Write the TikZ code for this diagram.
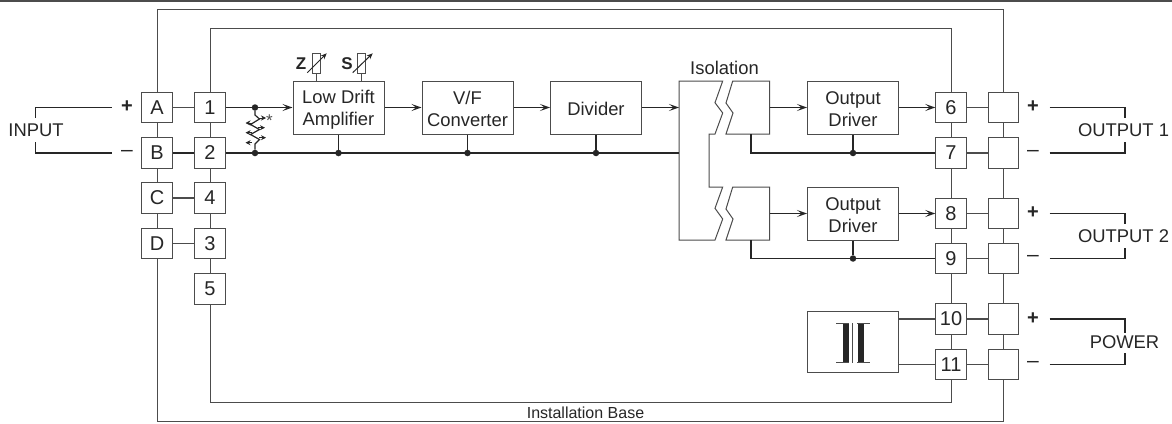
\documentclass[tikz,border=0pt]{standalone}
\usepackage{fontspec}
\setmainfont{Liberation Sans}
\usetikzlibrary{arrows.meta}
\definecolor{ink}{gray}{0.3}
\definecolor{txt}{gray}{0.15}
\newcommand{\tstrut}{\rule{0pt}{17pt}}
\tikzset{
  thin line/.style={draw=ink,line width=1pt},
  thick line/.style={draw=txt,line width=1.7pt},
  arrowed/.style={-{Stealth[length=10pt,width=7pt,inset=4.5pt]}},
  wire/.style={draw=txt,line width=1.4pt},
  lightwire/.style={draw=ink,line width=1.25pt},
  sq/.style={thin line,fill=white,inner sep=0pt,minimum size=30.5pt,font=\fontsize{20}{22}\selectfont,text=txt},
  blockbox/.style={thin line,fill=white,inner sep=0pt,minimum width=91pt,minimum height=53pt,align=center,font=\fontsize{18.4}{22}\selectfont,text=txt},
  frame/.style={thin line,inner sep=0pt},
  lab/.style={inner sep=0pt,font=\fontsize{18.4}{22}\selectfont,text=txt},
  sign/.style={inner sep=0pt,font=\fontsize{20}{22}\selectfont\bfseries,text=txt},
  minus/.style={inner sep=0pt,font=\fontsize{21}{22}\selectfont,text=txt},
  dot/.style={circle,fill=txt,inner sep=0pt,minimum size=6.5pt},
  rbox/.style={thin line,fill=white,inner sep=0pt,minimum width=7.5pt,minimum height=19.5pt},
  zz/.style={draw=txt,line width=1.2pt},
  tip/.style={-{Stealth[length=5pt,width=5pt]},draw=txt,line width=0.8pt},
}
\begin{document}
\begin{tikzpicture}[x=1pt,y=-1pt]
\useasboundingbox (0,0) rectangle (1172,423);
\fill[white] (0,0) rectangle (1172,423);
\draw[ink,line width=2pt] (0,0.6) -- (1172,0.6);
% frames
\node[frame,minimum width=846pt,minimum height=411.5pt] (outer) at (580,215.3) {};
\node[frame,minimum width=741pt,minimum height=374pt] (inner) at (580.5,215) {};
\node[inner sep=0pt,font=\fontsize{16}{18}\selectfont,text=txt] (base) at (585.5,412.7) {Installation Base};
% left columns
\foreach \n/\t/\y in {A/A/107.5,B/B/153,C/C/198,D/D/243.5}
  \node[sq] (\n) at (157,\y) {\t};
\foreach \n/\t/\y in {p1/1/107.5,p2/2/153,p4/4/198,p3/3/243.5,p5/5/289}
  \node[sq] (\n) at (210,\y) {\t};
% right columns
\foreach \n/\y in {6/107.5,7/153,8/213.5,9/258.5,10/319,11/364.5}{
  \node[sq] (t\n) at (951,\y) {\n};
  \node[sq] (u\n) at (1003.5,\y) {};
  \draw[lightwire] (t\n) -- (u\n);
}
% blocks
\node[blockbox] (amp) at (338.5,107.5) {\tstrut Low Drift\\Amplifier};
\node[blockbox] (vf) at (467.5,107.5) {\tstrut V/F\\Converter};
\node[blockbox] (div) at (596,107.5) {\tstrut Divider};
\node[blockbox] (d1) at (853,107.5) {\tstrut Output\\Driver};
\node[blockbox] (d2) at (853,213.5) {\tstrut Output\\Driver};
\node[blockbox,minimum height=60.5pt] (tr) at (852.7,342) {};
% isolation
\draw[thin line,line join=miter] (679,81) -- (722.7,81) -- (715,102.7) -- (722.7,113) -- (715,134) -- (709,134) -- (709,187) -- (722.7,187) -- (715,208.3) -- (722.7,219) -- (715,240) -- (679,240) -- cycle;
\draw[thin line] (732.7,81) -- (769.7,81) -- (769.7,134) -- (726,134) -- (733,113) -- (726,103) -- cycle;
\draw[thin line] (732.7,187) -- (769.7,187) -- (769.7,240) -- (726,240) -- (733,219) -- (726,209) -- cycle;
\node[lab] (isol) at (724.5,68) {Isolation};
\coordinate (isoin) at (679,107.5);
\coordinate (isob) at (679,153);
\coordinate (iso1) at (769.7,107.5);
\coordinate (iso2) at (769.7,213.5);
\coordinate (iso1g) at (750.7,134);
\coordinate (iso2g) at (750.7,240);
% bus dots
\node[dot] (j1) at (255,107.5) {};
\node[dot] (j2) at (255,153) {};
\node[dot] (j3) at (338.5,153) {};
\node[dot] (j4) at (467.5,153) {};
\node[dot] (j5) at (596,153) {};
\node[dot] (j6) at (853,153) {};
\node[dot] (j7) at (853,258.5) {};
% box-to-box wires
\draw[lightwire] (A) -- (p1);
\draw[thick line] (B) -- (p2);
\draw[lightwire] (C) -- (p4);
\draw[lightwire] (D) -- (p3);
\draw[wire,arrowed] (p1) -- (amp);
\draw[thick line] (p2) -- (isob);
\draw[wire,arrowed] (amp) -- (vf);
\draw[wire,arrowed] (vf) -- (div);
\draw[wire,arrowed] (div) -- (isoin);
\draw[wire,arrowed] (iso1) -- (d1);
\draw[wire,arrowed] (iso2) -- (d2);
\draw[wire,arrowed] (d1) -- (t6);
\draw[wire,arrowed] (d2) -- (t8);
\draw[thick line] (amp.south) -- (j3);
\draw[thick line] (vf.south) -- (j4);
\draw[thick line] (div.south) -- (j5);
\draw[thick line] (d1.south) -- (j6);
\draw[thick line] (d2.south) -- (j7);
\draw[thick line] (iso1g) |- (t7);
\draw[thick line] (iso2g) |- (t9);
\draw[lightwire] (tr.east |- t10) -- (t10);
\draw[lightwire] (tr.east |- t11) -- (t11);
% transformer symbol
\fill[txt] (842.7,323.3) rectangle (848.5,362.7);
\fill[txt] (857.7,323.3) rectangle (863.5,362.7);
\draw[ink,line width=1pt] (836,323.3) -- (849,323.3) (836,362.7) -- (849,362.7) (857,323.3) -- (869.5,323.3) (857,362.7) -- (869.5,362.7) (852.8,323.3) -- (852.8,362.7);
% trim resistors
\node[rbox] (rz) at (316.3,63.7) {};
\node[rbox] (rs) at (361.6,63.7) {};
\draw[thin line] (rz) -- (rz |- amp.north);
\draw[thin line] (rs) -- (rs |- amp.north);
\draw[draw=txt,line width=1pt,-{Stealth[length=6pt,width=5pt]}] (307.3,72.7) -- (326.7,53.3);
\draw[draw=txt,line width=1pt,-{Stealth[length=6pt,width=5pt]}] (352.7,72.7) -- (372.7,53.3);
\node[sign,font=\fontsize{17}{20}\selectfont\bfseries] (zl) at (301,64) {Z};
\node[sign,font=\fontsize{17}{20}\selectfont\bfseries] (sl) at (347,64) {S};
% variable resistor
\draw[zz] (j1) -- (255,115) -- (259.5,119) -- (250.5,124.5) -- (259.5,129.5) -- (250.5,134.5) -- (259.5,139.5) -- (255,144) -- (j2);
\draw[tip] (259,118) -- (266,118);
\draw[tip] (258,127.7) -- (265,127.7);
\draw[tip] (259,137.7) -- (266,137.7);
\draw[tip] (252,123) -- (245.5,123);
\draw[tip] (252,132.7) -- (245.5,132.7);
\draw[tip] (252,142.7) -- (245.5,142.7);
\node[inner sep=0pt,font=\fontsize{17}{17}\selectfont,text=ink] (star) at (269.5,121) {*};
% signs
\node[sign] (ip) at (127,107) {+};
\node[minus] (im) at (127,153) {–};
\foreach \n/\y in {a/107,c/213,e/318.5}
  \node[sign] (s\n) at (1033,\y) {+};
\foreach \n/\y in {b/153,d/258.5,f/364.5}
  \node[minus] (s\n) at (1033,\y) {–};
% terminals
\node[lab] (input) at (36,130.5) {INPUT};
\node[lab] (out1) at (1123.5,130.5) {OUTPUT 1};
\node[lab] (out2) at (1123.5,236.5) {OUTPUT 2};
\node[lab] (power) at (1124.5,342.5) {POWER};
\coordinate (ia) at (111.7,107.5);
\coordinate (ib) at (111.7,153);
\coordinate (ic) at (35.7,118);
\coordinate (id) at (35.7,142);
\draw[wire] (ia) -| (ic);
\draw[wire] (ib) -| (id);
\coordinate (oa) at (1049.5,107.5);
\coordinate (ob) at (1049.5,153);
\coordinate (oc) at (1049.5,213.5);
\coordinate (od) at (1049.5,258.5);
\coordinate (oe) at (1049.5,319);
\coordinate (of) at (1049.5,364.5);
\draw[wire] (oa) -| (1125,118);
\draw[wire] (ob) -| (1125,142);
\draw[wire] (oc) -| (1125,224);
\draw[wire] (od) -| (1125,248);
\draw[wire] (oe) -| (1125,333);
\draw[wire] (of) -| (1125,353);
\end{tikzpicture}
\end{document}
